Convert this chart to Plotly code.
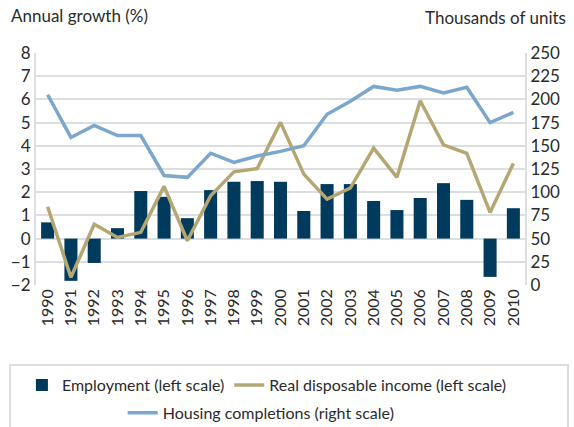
import plotly.graph_objects as go

# data
years = [str(y) for y in range(1990, 2011)]
employment = [0.70, -1.82, -1.05, 0.45, 2.05, 1.80, 0.88, 2.09, 2.45, 2.48, 2.45,
              1.19, 2.35, 2.35, 1.62, 1.23, 1.75, 2.39, 1.67, -1.65, 1.31]
income = [1.37, -1.67, 0.62, 0.05, 0.27, 2.25, -0.09, 1.85, 2.88, 3.02, 5.01,
          2.78, 1.70, 2.18, 3.90, 2.64, 5.94, 4.04, 3.67, 1.13, 3.24]
housing = [205, 159, 172, 161, 161, 118, 116, 142, 132, 139, 144,
           150, 184, 198, 214, 210, 214, 207, 213, 175, 186]

NAVY = '#003a5c'
TAN = '#b5a774'
BLUE = '#7ba7cc'
GRID = '#dcdfdf'
TXT = '#2b2b2b'
FONT = 'Lato'

fig = go.Figure()
fig.add_trace(go.Bar(x=years, y=employment, name='Employment (left scale)',
                     marker=dict(color=NAVY, line_width=0), legend='legend'))
fig.add_trace(go.Scatter(x=years, y=income, name='Real disposable income (left scale)',
                         mode='lines', line=dict(color=TAN, width=3.5), legend='legend'))
fig.add_trace(go.Scatter(x=years, y=housing, name='Housing completions (right scale)',
                         mode='lines', line=dict(color=BLUE, width=3.5), yaxis='y2',
                         legend='legend2'))

leg = dict(orientation='h', xref='container', yref='container',
           xanchor='center', yanchor='middle', itemwidth=30,
           font=dict(size=16), bgcolor='rgba(0,0,0,0)')

fig.update_layout(
    width=574, height=427,
    margin=dict(l=36, r=49, t=53, b=142),
    plot_bgcolor='white', paper_bgcolor='white',
    font=dict(family=FONT, color=TXT, size=17),
    bargap=0.44,
    showlegend=True,
    xaxis=dict(tickangle=-90, showgrid=False, ticks='', tickfont=dict(size=16),
               showline=False, zeroline=False, automargin=False),
    yaxis=dict(range=[-2, 8], dtick=1, gridcolor=GRID, gridwidth=2,
               zeroline=True, zerolinecolor=GRID, zerolinewidth=2,
               showline=True, linecolor=GRID, linewidth=2, ticks='', automargin=False),
    yaxis2=dict(range=[0, 250], dtick=25, overlaying='y', side='right',
                showgrid=False, zeroline=False, showline=True,
                linecolor=GRID, linewidth=2, ticks='', automargin=False),
    legend=dict(leg, x=0.465, y=0.098),
    legend2=dict(leg, x=0.455, y=0.033),
    annotations=[
        dict(text='Annual growth (%)', xref='paper', yref='paper', x=-0.055, y=1.16,
             xanchor='left', yanchor='middle', showarrow=False),
        dict(text='Thousands of units', xref='paper', yref='paper', x=1.088, y=1.155,
             xanchor='right', yanchor='middle', showarrow=False),
    ],
    shapes=[
        dict(type='rect', xref='paper', yref='paper', x0=-0.053, x1=1.088,
             y0=-0.345, y1=-0.7, line=dict(color=GRID, width=2)),
    ],
)

# drop the default page margin so the figure sits at the window's corner
fig.write_html("out.html", config={'displayModeBar': False},
               post_script="document.body.style.margin='0px';"
                           "document.body.style.overflow='hidden';")
